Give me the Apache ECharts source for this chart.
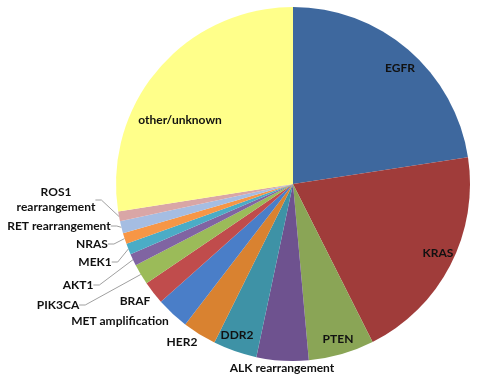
<!DOCTYPE html>
<html>
<head>
<meta charset="utf-8">
<script src="https://cdn.jsdelivr.net/npm/echarts@6/dist/echarts.min.js"></script>
<style>html,body{margin:0;padding:0;background:#fff}#c{width:480px;height:385px}</style>
</head>
<body>
<div id="c"></div>
<script>
const categories = ['EGFR','KRAS','PTEN','ALK rearrangement','DDR2','HER2','MET amplification','BRAF','PIK3CA','AKT1','MEK1','NRAS','RET rearrangement','ROS1 rearrangement','other/unknown'];
const values = [22.6, 20.0, 6.0, 4.75, 4.0, 3.1, 3.0, 2.1, 1.9, 1.1, 1.0, 1.0, 1.1, 0.9, 27.5];
const labelTexts = ['EGFR','KRAS','PTEN','ALK rearrangement','DDR2','HER2','MET amplification','BRAF','PIK3CA','AKT1','MEK1','NRAS','RET rearrangement','ROS1\nrearrangement','other/unknown'];
const colors = ['#3E689E','#A03C3A','#8AA556','#6E528F','#3E92A6','#D98230','#4A7EC8','#C04C4C','#9BBB59','#8064A2','#4BACC6','#F79646','#A5BDE2','#D9A6A6','#FFFF8A'];
const labelPos = [[400,68],[438,253],[338,339],[282,368],[237,335],[182,342],[120,321],[135,301],[58,305],[78,285],[95,262],[92,244],[59,226],[56,200],[180,120]];
const withLeader = [false,false,false,false,false,false,false,false,true,true,true,true,true,true,false];

const chart = echarts.init(document.getElementById('c'));
chart.setOption({
  animation: false,
  series: [{
    type: 'pie',
    center: [293, 184],
    radius: 177,
    startAngle: 90,
    clockwise: true,
    avoidLabelOverlap: false,
    data: categories.map((n, i) => ({
      name: n,
      value: values[i],
      itemStyle: { color: colors[i] },
      label: { position: withLeader[i] ? 'outside' : 'inside' },
      labelLine: { show: withLeader[i] }
    })),
    label: {
      show: true,
      formatter: p => labelTexts[p.dataIndex],
      fontFamily: 'Lato',
      fontWeight: 'bold',
      fontSize: 12,
      lineHeight: 15,
      color: '#111',
      align: 'center'
    },
    labelLine: {
      show: true,
      length: 8,
      length2: 6,
      lineStyle: { color: '#A0A0A0', width: 1 }
    },
    labelLayout: function (p) {
      const pos = labelPos[p.dataIndex];
      return { x: pos[0], y: pos[1], align: 'center', verticalAlign: 'middle' };
    },
    emphasis: { disabled: true }
  }]
});
</script>
</body>
</html>
